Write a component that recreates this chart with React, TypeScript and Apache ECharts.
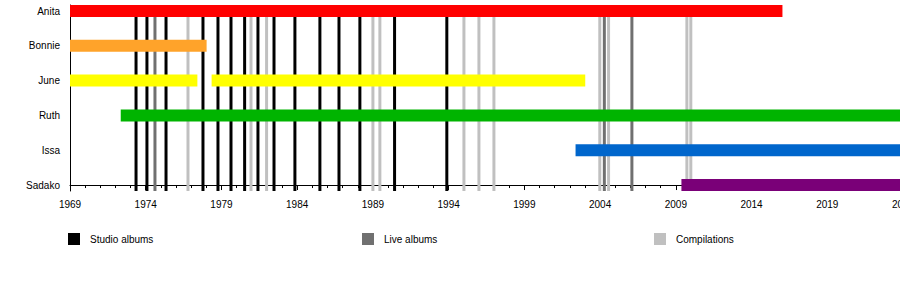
import React, { useEffect, useRef } from 'react';
import * as echarts from 'echarts';

// ---- data ----
const BASE_YEAR = 1969;
const END_YEAR = 2024;
const tickYears = [1969, 1974, 1979, 1984, 1989, 1994, 1999, 2004, 2009, 2014, 2019, 2024];

// rows, bottom to top
const members = ['Sadako', 'Issa', 'Ruth', 'June', 'Bonnie', 'Anita'];
const memberColors = ['#7a0078', '#0066cc', '#00b400', '#ffff00', '#ffa32a', '#ff0000'];

// membership periods
const periodMember = ['Anita', 'Bonnie', 'June', 'June', 'Ruth', 'Issa', 'Sadako'];
const periodStart = [1969, 1969, 1969, 1978.35, 1972.35, 2002.38, 2009.37];
const periodEnd = [2016.04, 1978.02, 1977.41, 2003.02, 2024, 2024, 2024];

// release dates
const studioAlbums = [
  1973.36, 1974.08, 1975.34, 1977.78, 1978.77, 1979.63, 1980.53, 1981.41, 1982.47,
  1983.85, 1985.5, 1986.76, 1988.14, 1990.43, 1993.88,
];
const liveAlbums = [1974.61, 2004.28, 2006.1];
const compilations = [
  1976.79, 1980.95, 1981.98, 1989.0, 1989.46, 1995.01, 1996.0, 1996.99, 2003.98, 2004.56,
  2009.73, 2009.99,
];

const legendNames = ['Studio albums', 'Live albums', 'Compilations'];
const legendColors = ['#000000', '#707070', '#c0c0c0'];

// ---- layout constants ----
const ROW_PX = 35;
const BAR_H = 12;
const Y_PAD = BAR_H / 2 / ROW_PX;
const TOP_ROW = members.length - 1;
const FONT = '"Liberation Sans", Arial, Helvetica, sans-serif';

export default function App() {
  const ref = useRef<HTMLDivElement>(null);

  useEffect(() => {
    const chart = echarts.init(ref.current!, null, { renderer: 'svg' });

    const lineRender = (params: any, api: any) => {
      const x = api.value(0);
      const top = api.coord([x, TOP_ROW]);
      const bottom = api.coord([x, -Y_PAD]);
      const y0 = top[1] + BAR_H / 2;
      return {
        type: 'rect',
        shape: { x: top[0] - 1.5, y: y0, width: 3, height: bottom[1] - y0 },
        style: { fill: api.visual('color') },
      };
    };

    const barRender = (params: any, api: any) => {
      const s = api.coord([api.value(0), api.value(2)]);
      const e = api.coord([api.value(1), api.value(2)]);
      return {
        type: 'rect',
        shape: { x: s[0], y: s[1] - BAR_H / 2, width: e[0] - s[0], height: BAR_H },
        style: { fill: memberColors[api.value(2)] },
      };
    };

    const lineSeries = [studioAlbums, liveAlbums, compilations].map((arr, i) => ({
      type: 'custom',
      name: legendNames[i],
      xAxisIndex: 0,
      yAxisIndex: 0,
      itemStyle: { color: legendColors[i] },
      renderItem: lineRender,
      encode: { x: 0, y: 1 },
      data: arr.map((y) => [y - BASE_YEAR, 0]),
      z: 2,
    }));

    const barSeries = {
      type: 'custom',
      name: 'members',
      xAxisIndex: 0,
      yAxisIndex: 0,
      renderItem: barRender,
      encode: { x: [0, 1], y: 2 },
      data: periodMember.map((m, i) => [
        periodStart[i] - BASE_YEAR,
        periodEnd[i] - BASE_YEAR,
        members.indexOf(m),
      ]),
      clip: false,
      z: 3,
    };

    const plotWidth = 833;

    chart.setOption({
      animation: false,
      textStyle: { fontFamily: FONT },
      grid: [
        { left: 70, top: 5, width: plotWidth, height: 186, containLabel: false, outerBoundsMode: 'none' },
        {
          left: 70,
          top: 5 + BAR_H / 2,
          width: plotWidth,
          height: ROW_PX * TOP_ROW - 1,
          containLabel: false,
          outerBoundsMode: 'none',
        },
      ],
      xAxis: [
        {
          type: 'value',
          gridIndex: 0,
          min: 0,
          max: END_YEAR - BASE_YEAR,
          interval: 5,
          axisLine: { show: true, lineStyle: { color: '#000', width: 1 } },
          axisTick: { show: true, length: 5, lineStyle: { color: '#000' } },
          minorTick: { show: true, splitNumber: 5, length: 3, lineStyle: { color: '#000' } },
          splitLine: { show: false },
          axisLabel: {
            color: '#000',
            fontSize: 10,
            fontFamily: FONT,
            margin: 8,
            hideOverlap: false,
            formatter: (v: number) => {
              const y = Math.round(v) + BASE_YEAR;
              return tickYears.includes(y) ? String(y) : '';
            },
          },
        },
        { type: 'value', gridIndex: 1, min: 0, max: 1, show: false },
      ],
      yAxis: [
        {
          type: 'value',
          gridIndex: 0,
          min: -Y_PAD,
          max: TOP_ROW + Y_PAD,
          axisLine: { show: true, lineStyle: { color: '#000', width: 1 } },
          axisTick: { show: false },
          axisLabel: { show: false },
          splitLine: { show: false },
        },
        {
          type: 'category',
          gridIndex: 1,
          boundaryGap: false,
          data: members,
          axisLine: { show: false },
          axisTick: { show: false },
          splitLine: { show: false },
          axisLabel: { color: '#000', fontSize: 10, fontFamily: FONT, margin: 10 },
        },
      ],
      legend: legendNames.map((n, i) => ({
        data: [n],
        left: [68, 362, 654][i],
        top: 233,
        padding: 0,
        icon: 'rect',
        itemWidth: 12,
        itemHeight: 12,
        selectedMode: false,
        textStyle: { color: '#000', fontSize: 10, fontFamily: FONT, padding: [0, 0, 0, 5] },
      })),
      series: [...lineSeries, barSeries],
    });

    return () => chart.dispose();
  }, []);

  return (
    <div
      ref={ref}
      style={{ position: 'absolute', left: 0, top: 0, width: 900, height: 300, background: '#fff', overflow: 'hidden' }}
    />
  );
}
